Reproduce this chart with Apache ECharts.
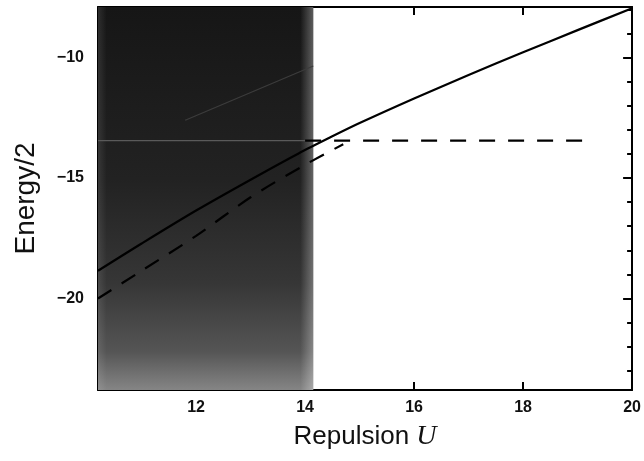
<!DOCTYPE html>
<html>
<head>
<meta charset="utf-8">
<script src="https://cdn.jsdelivr.net/npm/echarts@6/dist/echarts.min.js"></script>
<style>
html,body{margin:0;padding:0;background:#fff;}
#c{width:644px;height:461px;}
</style>
</head>
<body>
<div id="c"></div>
<script>
// ---- data ----
const xTickValues = [12, 14, 16, 18, 20];
const yLabelValues = [-10, -15, -20];
const yMinorValues = [-23, -22, -21, -19, -18, -17, -16, -14, -13, -12, -11, -9, -8];
const shadeRange = [10.2, 14.15];

const solidU = [10.2, 11, 12, 13, 13.88, 14.5, 15, 16, 17, 18, 19, 20];
const solidE = [-18.85, -17.72, -16.35, -15.07, -13.98, -13.27, -12.72, -11.7, -10.72, -9.78, -8.86, -7.95];

const dashU = [10.2, 11, 12, 13, 14, 14.7];
const dashE = [-20.0, -18.85, -17.4, -15.8, -14.45, -13.6];

const flatU = [14.0, 19.2];
const flatE = [-13.45, -13.45];

const faintFlatU = [10.2, 14.15];
const faintFlatE = [-13.45, -13.45];

const faintDiagU = [11.8, 14.15];
const faintDiagE = [-12.6, -10.35];

const xMin = 10.2, xMax = 20, yMin = -23.8, yMax = -7.9;

function pairs(xs, ys) { return xs.map((x, i) => [x, ys[i]]); }

const chart = echarts.init(document.getElementById('c'), null, {renderer: 'canvas'});

const tickFont = {fontFamily: 'Liberation Sans', fontWeight: 'bold', fontSize: 16, color: '#111'};

function yAx(pos, vals, len, showLabel, showLine) {
  return {
    type: 'value', position: pos, min: yMin, max: yMax,
    axisLine: {show: showLine, onZero: false, lineStyle: {color: '#000', width: 2}},
    axisTick: {show: true, inside: true, length: len, customValues: vals, lineStyle: {color: '#000', width: 2}},
    axisLabel: showLabel ? Object.assign({show: true, margin: 14, customValues: yLabelValues,
      formatter: v => (v < 0 ? '\u2212' + Math.abs(v) : String(v))}, tickFont) : {show: false},
    splitLine: {show: false}
  };
}

const option = {
  animation: false,
  backgroundColor: '#fff',
  grid: {left: 98, right: 10, top: 7, bottom: 71, containLabel: false},
  xAxis: [
    {
      type: 'value', position: 'bottom', min: xMin, max: xMax,
      name: '{a|Repulsion }{b|U}', nameLocation: 'middle', nameGap: 33,
      nameTextStyle: {rich: {
        a: {fontFamily: 'Liberation Sans', fontSize: 26, color: '#111'},
        b: {fontFamily: 'Liberation Serif', fontStyle: 'italic', fontSize: 28, color: '#111'}
      }},
      axisLine: {show: true, onZero: false, lineStyle: {color: '#000', width: 2}},
      axisTick: {show: true, inside: true, length: 8, customValues: xTickValues, lineStyle: {color: '#000', width: 2}},
      axisLabel: Object.assign({show: true, margin: 10, customValues: xTickValues}, tickFont),
      splitLine: {show: false}
    },
    {
      type: 'value', position: 'top', min: xMin, max: xMax,
      axisLine: {show: true, onZero: false, lineStyle: {color: '#000', width: 2}},
      axisTick: {show: true, inside: true, length: 8, customValues: xTickValues, lineStyle: {color: '#000', width: 2}},
      axisLabel: {show: false},
      splitLine: {show: false}
    }
  ],
  yAxis: [
    Object.assign(yAx('left', yLabelValues, 9, true, true), {
      name: 'Energy/2', nameLocation: 'middle', nameGap: 58, nameRotate: 90,
      nameTextStyle: {fontFamily: 'Liberation Sans', fontSize: 28, color: '#111'}
    }),
    yAx('left', yMinorValues, 5, false, false),
    yAx('right', yLabelValues, 9, false, true),
    yAx('right', yMinorValues, 5, false, false)
  ],
  series: [
    {
      type: 'line', data: [], xAxisIndex: 0, yAxisIndex: 0, silent: true,
      markArea: {
        silent: true,
        itemStyle: {
          color: new echarts.graphic.LinearGradient(0, 0, 0, 1, [
            {offset: 0, color: '#161616'},
            {offset: 0.45, color: '#222222'},
            {offset: 0.72, color: '#363636'},
            {offset: 0.9, color: '#555555'},
            {offset: 1, color: '#858585'}
          ])
        },
        data: [[{xAxis: shadeRange[0], yAxis: yMin}, {xAxis: shadeRange[1], yAxis: yMax}]]
      }
    },
    {
      type: 'line', data: [], xAxisIndex: 0, yAxisIndex: 0, silent: true,
      markArea: {
        silent: true,
        itemStyle: {
          color: new echarts.graphic.LinearGradient(0, 0, 1, 0, [
            {offset: 0, color: 'rgba(255,255,255,0.1)'},
            {offset: 0.04, color: 'rgba(255,255,255,0)'},
            {offset: 0.94, color: 'rgba(255,255,255,0)'},
            {offset: 1, color: 'rgba(255,255,255,0.3)'}
          ])
        },
        data: [[{xAxis: shadeRange[0], yAxis: yMin}, {xAxis: shadeRange[1], yAxis: yMax}]]
      }
    },
    {
      type: 'line', data: pairs(faintFlatU, faintFlatE), symbol: 'none', silent: true,
      lineStyle: {color: '#5a5a5a', width: 1.2}
    },
    {
      type: 'line', data: pairs(faintDiagU, faintDiagE), symbol: 'none', silent: true,
      lineStyle: {color: '#3c3c3c', width: 1.2}
    },
    {
      type: 'line', data: pairs(solidU, solidE), symbol: 'none', smooth: 0.3, silent: true,
      lineStyle: {color: '#000', width: 2.2}
    },
    {
      type: 'line', data: pairs(dashU, dashE), symbol: 'none', smooth: 0.3, silent: true,
      lineStyle: {color: '#000', width: 2.2, type: [16, 12]}
    },
    {
      type: 'line', data: pairs(flatU, flatE), symbol: 'none', silent: true,
      lineStyle: {color: '#000', width: 2.2, type: [16, 13]}
    }
  ]
};
chart.setOption(option);
</script>
</body>
</html>
